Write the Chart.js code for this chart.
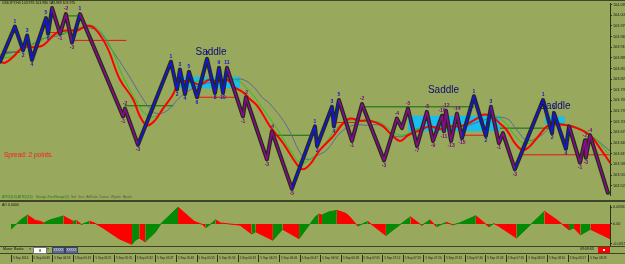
<!DOCTYPE html>
<html>
<head>
<meta charset="utf-8">
<title>USDJPY</title>
<script src="https://cdn.jsdelivr.net/npm/chart.js@4.4.1/dist/chart.umd.min.js"></script>
<style>
  html, body { margin: 0; padding: 0; }
  body { width: 625px; height: 264px; position: relative; overflow: hidden; background: #98a85c;
         font-family: "Liberation Sans", Arial, sans-serif; }
  canvas { position: absolute; left: 0; }
  #priceChart { top: 0; }
  #aoChart { top: 202px; }
  .line { position: absolute; left: 0; width: 625px; height: 1px; background: #3e4526; }
  .txt { position: absolute; white-space: nowrap; line-height: 1; }
  .btn { position: absolute; top: 247px; width: 11px; height: 5px; background: #5d6a8c; border: 1px solid #3a4260;
         color: #e8e8f0; font-size: 3px; line-height: 5px; text-align: center; }
</style>
</head>
<body>
<canvas id="priceChart" width="625" height="199"></canvas>
<canvas id="aoChart" width="625" height="62"></canvas>

<div class="line" style="top:0"></div>
<div class="line" style="top:200px;height:2px"></div>
<div class="line" style="top:246px"></div>
<div class="line" style="top:253px"></div>

<div class="txt" style="left:2px;top:2px;font-size:3.5px;color:#111">USDJPY,H4 103.976 103.980 103.969 103.975</div>
<div class="txt" style="left:4px;top:152px;font-size:6.5px;color:#ff1a1a">Spread: 2 points.</div>
<div class="txt" style="left:2px;top:196px;font-size:3.5px;color:#1f7a1f">ATR5(13) ATR5(13)</div>
<div class="txt" style="left:36px;top:196px;font-size:3.5px;color:#1f7a1f">Range ZeroRange(1)<span style="color:#55603a">&nbsp; Sat&nbsp; Sun&nbsp; AtlRate&nbsp; Danar&nbsp; Wpale&nbsp; Bpale</span></div>
<div class="txt" style="left:2px;top:204px;font-size:3.5px;color:#111">AO 0.0000</div>

<div class="txt" style="left:3px;top:248px;font-size:3.5px;color:#111">Maser Ranks</div>
<div class="txt" style="left:29px;top:248px;font-size:3.5px;color:#111">&lt;</div>
<div style="position:absolute;left:33px;top:247px;width:12px;height:5px;background:#fff;border:1px solid #777;font-size:4px;line-height:5px;text-align:center">8</div>
<div class="txt" style="left:47px;top:248px;font-size:3.5px;color:#111">&gt;</div>
<div class="btn" style="left:52px">XXXXX</div>
<div class="btn" style="left:65px">XXXXX</div>
<div class="txt" style="left:580px;top:248px;font-size:3.5px;color:#111">09:09:63</div>
<div style="position:absolute;left:598px;top:247px;width:12px;height:6px;background:#f00"><div style="position:absolute;left:5px;top:2px;width:2px;height:2px;background:#fff"></div></div>

<script>
// price axis / time axis
const priceTicks = [104.035, 104.005, 103.975, 103.945, 103.915, 103.885, 103.855, 103.825, 103.795,
  103.765, 103.735, 103.705, 103.675, 103.645, 103.615, 103.585, 103.555, 103.525];
const aoTicks = [0.0266, 0, -0.0315];
const timeLabels = ['5 Sep 2014', '5 Sep 04:49', '5 Sep 04:59', '5 Sep 05:13', '5 Sep 05:21', '5 Sep 05:31',
  '5 Sep 05:32', '5 Sep 05:37', '5 Sep 05:49', '5 Sep 05:53', '5 Sep 05:59', '5 Sep 06:13', '5 Sep 06:23',
  '5 Sep 06:41', '5 Sep 06:47', '5 Sep 06:52', '5 Sep 06:58', '5 Sep 07:05', '5 Sep 07:12', '5 Sep 07:19',
  '5 Sep 07:26', '5 Sep 07:31', '5 Sep 07:40', '5 Sep 07:49', '5 Sep 07:55', '5 Sep 08:03', '5 Sep 08:10',
  '5 Sep 08:17', '5 Sep 08:29'];

// zigzag swing points (bar index, price) and wave count labels
const zigBars = [0, 7.1, 11.0, 12.9, 15.2, 21.9, 22.9, 24.8, 28.6, 31.4,
  34.3, 38.1, 58.6, 59.5, 65.7, 81.4, 84.3, 85.7, 88.1, 90.0,
  93.8, 98.6, 102.4, 104.3, 106.2, 108.1, 115.7, 117.1, 127.1, 129.5,
  139.0, 150.0, 151.0, 158.1, 159.0, 161.4, 167.6, 172.4, 182.9, 189.0,
  191.4, 194.3, 198.6, 203.3, 206.2, 210.5, 211.4, 212.4, 214.8, 217.6,
  220.0, 225.7, 231.4, 233.8, 237.6, 239.5, 245.2, 258.6, 262.9, 263.8,
  269.5, 271.0, 276.2, 278.6, 279.0, 281.0, 289.5];
const zigPrices = [103.874, 103.973, 103.906, 103.948, 103.879, 103.997, 103.953, 104.025, 103.953, 104.008,
  103.928, 104.008, 103.720, 103.742, 103.640, 103.874, 103.796, 103.852, 103.783, 103.846,
  103.774, 103.882, 103.786, 103.857, 103.786, 103.857, 103.720, 103.774, 103.599, 103.678,
  103.516, 103.692, 103.637, 103.747, 103.692, 103.766, 103.651, 103.755, 103.596, 103.714,
  103.687, 103.742, 103.637, 103.733, 103.651, 103.722, 103.678, 103.736, 103.651, 103.728,
  103.659, 103.777, 103.665, 103.747, 103.645, 103.673, 103.571, 103.766, 103.673, 103.730,
  103.629, 103.692, 103.590, 103.653, 103.604, 103.667, 103.505];
const waveLabels = ['', '1', '2', '3', '4', '5', '6', '7', '-1', '-2',
  '-3', '1', '-1', '-2', '-3', '1', '2', '3', '4', '5',
  '6', '7', '8', '9', '10', '11', '-1', '-2', '-3', '-4',
  '-5', '1', '2', '3', '4', '5', '-1', '-2', '-3', '-4',
  '', '-5', '-7', '-8', '-9', '-10', '-11', '-12', '-13', '-14',
  '-15', '1', '2', '3', '-1', '', '-3', '1', '2', '3',
  '4', '', '-1', '-2', '-3', '-4', ''];

// moving averages
const redBars = [0, 2.4, 6.2, 11.0, 15.7, 20.5, 27.1, 31.9, 36.7, 41.4,
  45.2, 51.0, 57.1, 63.3, 66.7, 70.0, 73.8, 77.6, 81.9, 85.7,
  90.5, 95.2, 100.0, 103.3, 108.1, 111.0, 115.7, 119.0, 122.9, 128.6,
  134.8, 141.4, 144.3, 147.6, 152.4, 158.6, 163.3, 166.7, 171.4, 176.2,
  181.9, 185.7, 190.5, 194.3, 200.0, 204.8, 209.5, 214.3, 219.0, 222.9,
  227.1, 230.0, 234.3, 238.1, 241.4, 245.2, 248.6, 251.4, 255.7, 260.5,
  265.2, 270.0, 274.8, 281.0, 285.7, 290.5];
const redPrices = [103.874, 103.871, 103.887, 103.915, 103.915, 103.920, 103.956, 103.962, 103.962, 103.975,
  103.967, 103.915, 103.824, 103.769, 103.720, 103.695, 103.709, 103.742, 103.777, 103.816,
  103.818, 103.810, 103.824, 103.818, 103.824, 103.805, 103.788, 103.769, 103.747, 103.692,
  103.645, 103.585, 103.571, 103.585, 103.626, 103.664, 103.700, 103.714, 103.708, 103.708,
  103.695, 103.673, 103.651, 103.667, 103.681, 103.692, 103.684, 103.692, 103.692, 103.700,
  103.714, 103.725, 103.720, 103.700, 103.681, 103.645, 103.626, 103.631, 103.659, 103.692,
  103.698, 103.695, 103.687, 103.667, 103.631, 103.590];
const greenBars = [0, 4.8, 11.0, 17.6, 23.8, 31.9, 38.1, 44.3, 51.0, 58.6,
  64.3, 69.0, 73.8, 78.6, 84.8, 92.9, 102.4, 111.9, 118.1, 125.2,
  131.9, 138.1, 142.9, 147.6, 153.3, 159.5, 165.7, 173.8, 181.0, 186.7,
  191.9, 199.0, 209.5, 221.4, 228.6, 234.3, 240.5, 246.2, 251.0, 257.1,
  263.3, 271.4, 281.0, 290.5];
const greenPrices = [103.887, 103.887, 103.915, 103.926, 103.948, 103.956, 103.970, 103.975, 103.934, 103.832,
  103.769, 103.728, 103.720, 103.747, 103.802, 103.818, 103.824, 103.824, 103.796, 103.742,
  103.686, 103.626, 103.590, 103.599, 103.631, 103.681, 103.708, 103.706, 103.703, 103.678,
  103.667, 103.686, 103.689, 103.698, 103.720, 103.725, 103.703, 103.659, 103.643, 103.670,
  103.698, 103.695, 103.670, 103.610];
const slowBars = [0, 9.5, 20.5, 28.6, 36.7, 46.2, 52.4, 60.5, 68.1, 71.4,
  74.8, 79.5, 85.7, 92.9, 102.4, 111.9, 115.7, 120.5, 124.8, 128.6,
  136.7, 142.9, 146.2, 151.0, 155.7, 161.9, 168.1, 174.8, 181.0, 187.1,
  191.9, 200.0, 211.0, 222.4, 228.6, 233.3, 241.4, 246.2, 251.0, 257.1,
  263.3, 271.4, 281.0, 290.5];
const slowPrices = [103.893, 103.906, 103.939, 103.948, 103.967, 103.962, 103.915, 103.843, 103.769, 103.742,
  103.728, 103.736, 103.774, 103.802, 103.818, 103.824, 103.824, 103.805, 103.774, 103.755,
  103.692, 103.618, 103.599, 103.610, 103.626, 103.673, 103.695, 103.695, 103.695, 103.667,
  103.664, 103.687, 103.692, 103.695, 103.706, 103.714, 103.714, 103.681, 103.653, 103.664,
  103.692, 103.692, 103.667, 103.623];

// horizontal levels
const levelStart = [1.4, 22.4, 31.0, 34.3, 59.5, 93.8, 129.5, 158.6, 172.4, 220.0, 238.1, 248.6];
const levelEnd = [9.5, 28.6, 39.0, 60.0, 82.4, 112.9, 150.0, 170.0, 225.7, 231.9, 263.3, 290.5];
const levelPrice = [103.901, 103.956, 104.003, 103.934, 103.750, 103.774, 103.667, 103.703, 103.747, 103.667, 103.687, 103.612];
const levelKind = ['sup', 'res', 'sup', 'res', 'sup', 'res', 'sup', 'res', 'sup', 'res', 'sup', 'res'];

// saddle zones
const boxStart = [83.8, 194.3, 259.5];
const boxEnd = [114.3, 238.1, 269.0];
const boxHigh = [103.832, 103.722, 103.720];
const boxLow = [103.799, 103.678, 103.698];
const saddleBars = [100.5, 211.2, 264.3];
const saddlePrices = [103.901, 103.794, 103.750];

// awesome oscillator
const aoBars = [0, 4.8, 8.0, 11.9, 14.3, 15.9, 19.0, 25.4, 29.4, 30.1,
  31.8, 34.1, 38.1, 40.5, 44.4, 52.4, 58.7, 60.3, 62.2, 65.1,
  69.9, 73.0, 81.0, 88.9, 92.9, 94.4, 96.0, 99.2, 101.6, 111.1,
  116.7, 118.6, 127.0, 131.7, 139.7, 147.6, 149.2, 150.8, 154.0, 158.0,
  161.9, 163.5, 168.2, 173.0, 181.8, 193.7, 199.2, 203.2, 206.3, 211.1,
  214.3, 217.5, 225.4, 231.8, 234.1, 236.5, 245.2, 258.7, 265.1, 270.6,
  273.0, 276.2, 281.0, 290.5];
const aoValues = [-0.0085, 0.0065, 0.014, 0.0055, 0.004, 0.0015, 0.0065, 0.0125, 0.0055, 0.004,
  0.0055, -0.001, 0.004, 0.0015, -0.006, -0.0235, -0.0325, -0.026, -0.0225, -0.0285,
  -0.0135, 0.0015, 0.0265, 0.004, -0.001, -0.006, -0.0025, 0.0065, 0.0015, -0.002,
  -0.016, -0.0125, -0.026, -0.0085, -0.0235, 0.0115, 0.0155, 0.014, 0.019, 0.0215,
  0.0175, 0.014, -0.0035, 0.004, -0.0185, 0.0115, -0.0025, 0.0065, -0.0045, 0.0025,
  -0.0015, 0.0015, 0.013, -0.0045, 0.0005, -0.0035, -0.0225, 0.02, 0.0055, -0.0095,
  -0.0065, -0.0175, -0.0085, -0.0235];

const pts = (xs, ys) => xs.map((x, i) => ({ x: x, y: ys[i] }));
const FONT = '"Liberation Sans", Arial, sans-serif';
const AXIS = '#2c3018';

function waveColor(i) {
  let t = waveLabels[i];
  if (!t) t = waveLabels[i - 1] || '';
  return t.startsWith('-') ? '#8a0a96' : '#1414e6';
}

const datasets = [];
datasets.push({
  data: pts(zigBars, zigPrices), borderWidth: 1.6, order: 1,
  segment: { borderColor: c => waveColor(c.p1DataIndex) }
});
datasets.push({ data: pts(zigBars, zigPrices), borderColor: '#222a10', borderWidth: 4, order: 2 });
datasets.push({ data: pts(redBars, redPrices), borderColor: '#ff0000', borderWidth: 2, tension: 0.4, order: 3 });
datasets.push({ data: pts(greenBars, greenPrices), borderColor: '#22c422', borderWidth: 1, tension: 0.4, order: 4 });
datasets.push({ data: pts(slowBars, slowPrices), borderColor: '#5a6a9c', borderWidth: 1, tension: 0.4, order: 4 });
levelPrice.forEach((p, i) => {
  datasets.push({
    data: [{ x: levelStart[i], y: p }, { x: levelEnd[i], y: p }],
    borderColor: levelKind[i] === 'res' ? '#f01010' : '#0a6e0a', borderWidth: 1, order: 5
  });
});
boxHigh.forEach((h, i) => {
  datasets.push({
    data: [{ x: boxStart[i], y: h }, { x: boxEnd[i], y: h }],
    borderWidth: 0, fill: '+1', backgroundColor: '#19bdf0', order: 8
  });
  datasets.push({
    data: [{ x: boxStart[i], y: boxLow[i] }, { x: boxEnd[i], y: boxLow[i] }],
    borderWidth: 0, order: 9
  });
});

const labelsPlugin = {
  id: 'labelsPlugin',
  afterDatasetsDraw(chart) {
    const { ctx, scales: { x, y } } = chart;
    ctx.save();
    ctx.textAlign = 'center';
    ctx.textBaseline = 'middle';
    ctx.font = 'bold 5px ' + FONT;
    zigBars.forEach((b, i) => {
      const t = waveLabels[i];
      if (!t) return;
      const p = zigPrices[i];
      const peak = (i === 0 || p > zigPrices[i - 1]) && (i === zigPrices.length - 1 || p > zigPrices[i + 1]);
      ctx.fillStyle = t.startsWith('-') ? '#7a0a86' : '#1414d0';
      ctx.fillText(t, x.getPixelForValue(b), y.getPixelForValue(p) + (peak ? -5 : 5));
    });
    ctx.font = '10px ' + FONT;
    ctx.fillStyle = '#0c0c78';
    saddleBars.forEach((b, i) => {
      ctx.fillText('Saddle', x.getPixelForValue(b), y.getPixelForValue(saddlePrices[i]));
    });
    ctx.restore();
  }
};

new Chart(document.getElementById('priceChart'), {
  type: 'line',
  data: { datasets: datasets },
  plugins: [labelsPlugin],
  options: {
    responsive: false, animation: false, devicePixelRatio: 1,
    layout: { padding: { top: 2, left: 0, right: 0, bottom: 0 } },
    elements: { point: { radius: 0 }, line: { fill: false, borderJoinStyle: 'round', borderCapStyle: 'round' } },
    plugins: { legend: { display: false }, tooltip: { enabled: false } },
    scales: {
      x: { type: 'linear', min: 0, max: 290.5, display: false },
      y: {
        position: 'right', min: 103.4968, max: 104.0385,
        afterFit: s => { s.width = 15; },
        afterBuildTicks: s => { s.ticks = priceTicks.map(v => ({ value: v })); },
        grid: { drawOnChartArea: false, tickLength: 2, color: AXIS },
        border: { color: AXIS },
        ticks: { autoSkip: false, padding: 1, color: '#1a1a1a', font: { size: 3.8, family: FONT },
          callback: v => v.toFixed(3) }
      }
    }
  }
});

const timeMarks = {
  id: 'timeMarks',
  afterDraw(chart) {
    const { ctx, scales: { x } } = chart;
    ctx.save();
    ctx.strokeStyle = AXIS;
    ctx.lineWidth = 1;
    x.ticks.forEach(t => {
      const px = Math.round(x.getPixelForValue(t.value)) + 0.5;
      ctx.beginPath();
      ctx.moveTo(px, 53);
      ctx.lineTo(px, 60);
      ctx.stroke();
    });
    ctx.restore();
  }
};

new Chart(document.getElementById('aoChart'), {
  type: 'line',
  data: {
    datasets: [{
      data: pts(aoBars, aoValues), borderWidth: 1, fill: 'origin', pointRadius: 0,
      segment: {
        borderColor: c => c.p1.parsed.y >= c.p0.parsed.y ? '#058a05' : '#ff0000',
        backgroundColor: c => c.p1.parsed.y >= c.p0.parsed.y ? '#058a05' : '#ff0000'
      }
    }]
  },
  plugins: [timeMarks],
  options: {
    responsive: false, animation: false, devicePixelRatio: 1,
    layout: { padding: { top: 1, left: 0, right: 0, bottom: 0 } },
    plugins: { legend: { display: false }, tooltip: { enabled: false } },
    scales: {
      x: {
        type: 'linear', min: 0, max: 290.5, position: 'bottom',
        afterFit: s => { s.height = 19; },
        afterBuildTicks: s => { s.ticks = timeLabels.map((_, i) => ({ value: i * 10 })); },
        grid: { drawOnChartArea: false, drawTicks: false },
        border: { display: false },
        ticks: { autoSkip: false, maxRotation: 0, align: 'start', labelOffset: 2, padding: 11,
          color: '#1a1a1a', font: { size: 3, family: FONT }, callback: (v, i) => timeLabels[i] }
      },
      y: {
        position: 'right', min: -0.0335, max: 0.0296,
        afterFit: s => { s.width = 15; },
        afterBuildTicks: s => { s.ticks = aoTicks.map(v => ({ value: v })); },
        grid: { drawOnChartArea: false, tickLength: 2, color: AXIS },
        border: { color: AXIS },
        ticks: { autoSkip: false, padding: 1, color: '#1a1a1a', font: { size: 3.8, family: FONT },
          callback: v => v === 0 ? '0.00' : v.toFixed(4) }
      }
    }
  }
});
</script>
</body>
</html>
